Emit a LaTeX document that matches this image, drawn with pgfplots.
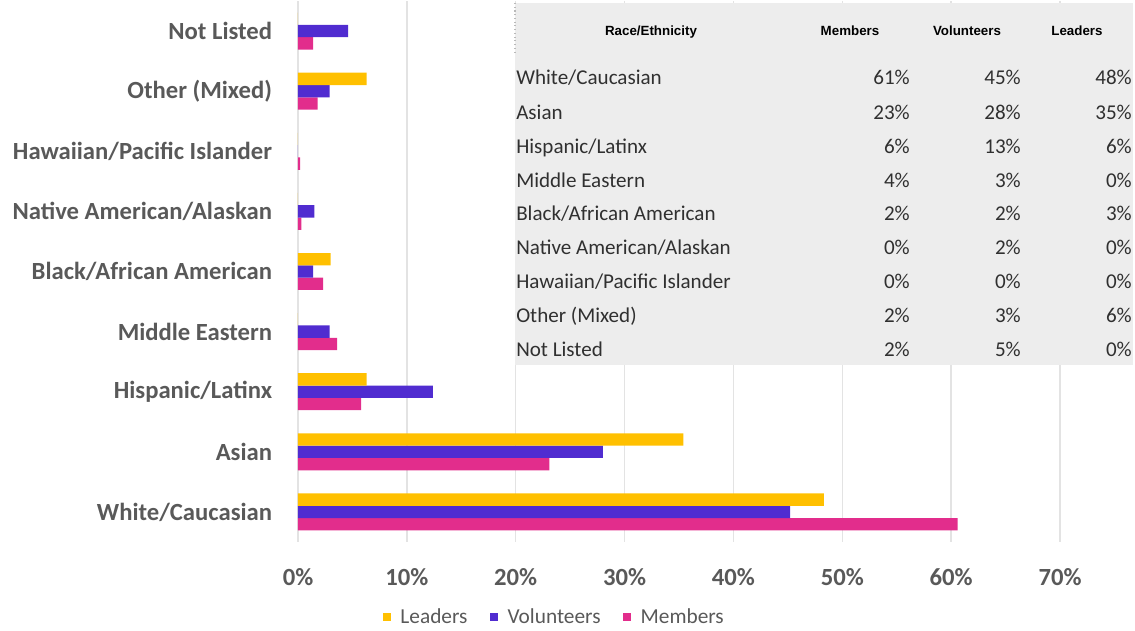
\documentclass[border=0pt]{standalone}
\usepackage{pgfplots}
\pgfplotsset{compat=1.18}
\usepackage{fontspec}
\setmainfont{Carlito}
\newfontfamily\hdrfont{Liberation Sans}
\definecolor{cLead}{HTML}{FFC000}
\definecolor{cVol}{HTML}{502CD0}
\definecolor{cMem}{HTML}{E22D8C}
\definecolor{txt}{HTML}{595959}
\definecolor{tabtxt}{HTML}{303030}
\definecolor{gridc}{HTML}{E3E3E3}
\definecolor{tbl}{HTML}{EDEDED}

\begin{document}
\begin{tikzpicture}
\begin{scope}[shift={(-223.5pt,406.5pt)},x=0.75pt,y=-0.75pt]
\useasboundingbox (0,0) rectangle (1135,631);
\end{scope}
\begin{axis}[
  at={(0,0)}, anchor=south west,
  scale only axis, width=571.5pt, height=405.75pt,
  xbar, bar width=0.205,
  xmin=0, xmax=70, ymin=-0.5, ymax=8.5,
  xtick={0,10,20,30,40,50,60,70},
  xticklabels={0\%,10\%,20\%,30\%,40\%,50\%,60\%,70\%},
  ytick={0,1,2,3,4,5,6,7,8},
  yticklabels={White/Caucasian,Asian,Hispanic/Latinx,Middle Eastern,Black/African American,Native American/Alaskan,Hawaiian/Pacific Islander,Other (Mixed),Not Listed},
  axis line style={draw=none},
  tick style={draw=none},
  xmajorgrids, grid style={gridc, line width=1.1pt},
  xticklabel style={font=\bfseries\fontsize{18.5}{20}\selectfont, text=txt, anchor=base, inner sep=0pt, yshift=-33pt},
  yticklabel style={font=\bfseries\fontsize{18.5}{20}\selectfont, text=txt, anchor=east, inner sep=0pt, xshift=-15pt},
  legend style={at={(0.337,-0.139)}, anchor=center, draw=none, fill=none, legend columns=-1,
    font=\fontsize{16}{18}\selectfont, text=txt,
    /tikz/every odd column/.append style={column sep=5pt},
    /tikz/every even column/.append style={column sep=15pt}},
  legend image code/.code={\fill[#1] (0pt,-3pt) rectangle (6pt,3pt);},
  reverse legend,
  clip=false,
]
\addplot[fill=cMem, draw=none, bar shift=-0.205] coordinates {
(60.6,0) (23.1,1) (5.8,2) (3.6,3) (2.3,4) (0.3,5) (0.2,6) (1.8,7) (1.4,8)};
\addlegendentry{Members}
\addplot[fill=cVol, draw=none, bar shift=0] coordinates {
(45.2,0) (28.0,1) (12.4,2) (2.9,3) (1.4,4) (1.5,5) (0,6) (2.9,7) (4.6,8)};
\addlegendentry{Volunteers}
\addplot[fill=cLead, draw=none, bar shift=0.205] coordinates {
(48.3,0) (35.4,1) (6.3,2) (0,3) (3.0,4) (0,5) (0,6) (6.3,7) (0,8)};
\addlegendentry{Leaders}
\end{axis}
\begin{scope}[shift={(-223.5pt,406.5pt)},x=0.75pt,y=-0.75pt]
\fill[tbl] (515,3) rectangle (1133,365);
\draw[gray!55, dotted, line width=0.8pt] (515,3) -- (515,52);
\begin{scope}[every node/.style={font=\hdrfont\bfseries\fontsize{10}{11}\selectfont, text=black, anchor=base, inner sep=0pt}]
\node at (651,36) {Race/Ethnicity};
\node at (850,36) {Members};
\node at (967,36) {Volunteers};
\node at (1077,36) {Leaders};
\end{scope}
\begin{scope}[every node/.style={font=\fontsize{15.8}{17}\selectfont, text=tabtxt, inner sep=0pt}]
\foreach \y/\n/\m/\v/\l in {
  77/{White/Caucasian}/61/45/48,
  112/{Asian}/23/28/35,
  146/{Hispanic/Latinx}/6/13/6,
  180/{Middle Eastern}/4/3/0,
  213/{Black/African American}/2/2/3,
  247/{Native American/Alaskan}/0/2/0,
  281/{Hawaiian/Pacific Islander}/0/0/0,
  315/{Other (Mixed)}/2/3/6,
  349/{Not Listed}/2/5/0}{
  \node[anchor=base west] at (516,\y+7.5) {\n};
  \node[anchor=base east] at (910,\y+7.5) {\m\%};
  \node[anchor=base east] at (1021,\y+7.5) {\v\%};
  \node[anchor=base east] at (1132,\y+7.5) {\l\%};
}
\end{scope}
\end{scope}
\end{tikzpicture}
\end{document}
